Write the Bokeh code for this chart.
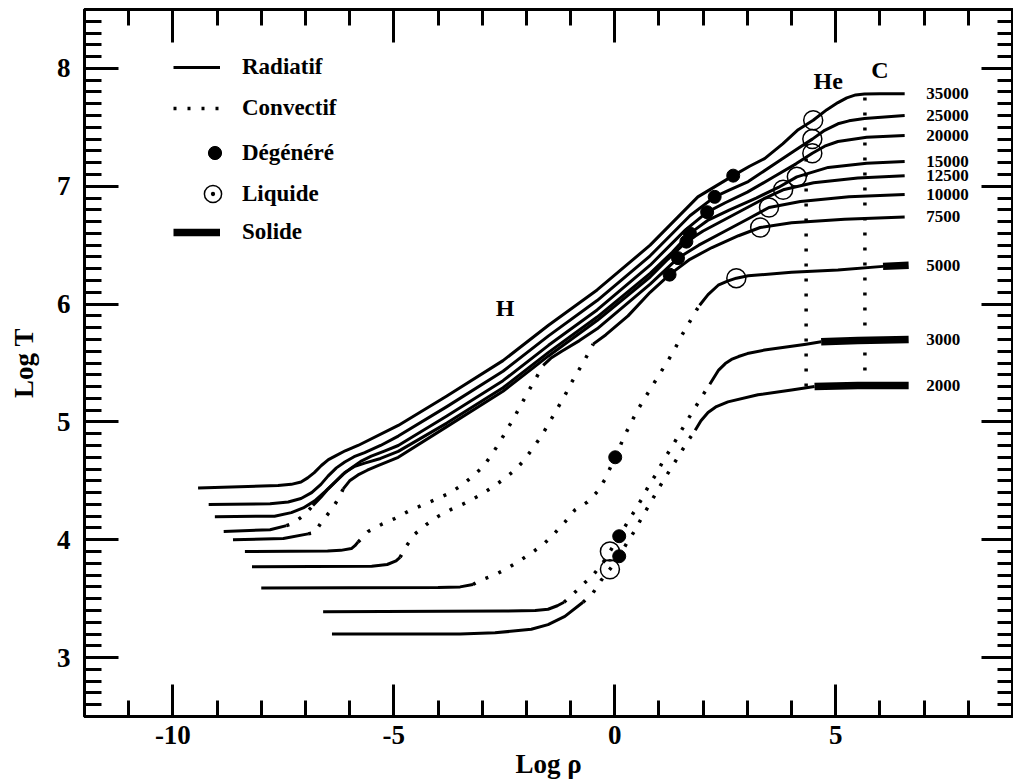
from bokeh.plotting import figure
from bokeh.models import (FixedTicker, LinearAxis, Label, Legend, LegendItem, Range1d,
                          CustomJSTickFormatter)
from bokeh.embed import file_html
from bokeh.resources import INLINE
from bokeh.core.properties import value

# ---------------- data ----------------
teff_labels = ["35000", "25000", "20000", "15000", "12500",
               "10000", "7500", "5000", "3000", "2000"]

t35000_x = [-9.43, -7.62, -7.32, -7.1, -6.95, -6.80, -6.64, -6.48, -6.33, -6.1, -5.81, -4.9, -3.8,
            -2.53, -1.5, -0.4, 0.8, 1.88, 2.68, 3.05, 3.39, 3.8, 4.15, 4.49, 4.8, 5.05, 5.25, 5.45,
            5.65, 6.0, 6.56]
t35000_y = [4.44, 4.46, 4.47, 4.49, 4.525, 4.57, 4.63, 4.68, 4.71, 4.755, 4.80, 4.97, 5.22,
            5.52, 5.82, 6.12, 6.50, 6.91, 7.09, 7.17, 7.235, 7.36, 7.48, 7.56, 7.65, 7.71, 7.75, 7.775,
            7.783, 7.785, 7.785]

t25000_x = [-9.19, -7.8, -7.39, -7.1, -6.86, -6.65, -6.49, -6.3, -6.11, -5.9, -5.66, -5.3, -4.9, -3.8,
            -2.53, -1.5, -0.4, 0.8, 1.7, 2.26, 2.6, 3.02, 3.7, 4.1, 4.47, 4.75, 5.05, 5.3, 5.65, 6.56]
t25000_y = [4.30, 4.305, 4.32, 4.35, 4.40, 4.47, 4.54, 4.61, 4.66, 4.705, 4.74, 4.80, 4.88, 5.13,
            5.43, 5.73, 6.03, 6.41, 6.75, 6.91, 6.97, 7.04, 7.21, 7.31, 7.40, 7.475, 7.53, 7.555,
            7.575, 7.60]

t20000_x = [-9.05, -7.7, -7.32, -7.05, -6.79, -6.55, -6.33, -6.15, -5.96, -5.75, -5.51, -5.2, -4.9,
            -3.8, -2.53, -1.5, -0.4, 0.8, 1.6, 2.09, 2.5, 3.0, 3.6, 4.1, 4.47, 4.75, 5.05, 5.7, 6.56]
t20000_y = [4.196, 4.20, 4.23, 4.27, 4.33, 4.41, 4.49, 4.555, 4.61, 4.665, 4.71, 4.755, 4.80,
            5.05, 5.35, 5.65, 5.95, 6.33, 6.63, 6.78, 6.86, 6.95, 7.08, 7.19, 7.28, 7.34, 7.38,
            7.415, 7.43]

t15000_x = [-8.85, -7.8, -7.43, -7.28, -7.03, -6.83, -6.65, -6.49, -6.3, -6.11, -5.9, -5.66, -5.3,
            -4.9, -3.8, -2.53, -1.5, -0.4, 0.8, 1.3, 1.70, 2.1, 2.6, 3.2, 3.7, 4.12, 4.83, 5.7, 6.56]
t15000_y = [4.07, 4.085, 4.12, 4.14, 4.21, 4.29, 4.36, 4.43, 4.50, 4.57, 4.62, 4.65, 4.69,
            4.75, 4.99, 5.29, 5.59, 5.89, 6.26, 6.44, 6.60, 6.71, 6.80, 6.90, 6.99, 7.08, 7.16,
            7.195, 7.21]
t15000_conv = [(-7.43, -6.83)]

t12500_x = [-8.64, -7.5, -6.94, -6.79, -6.62, -6.40, -6.22, -6.15, -6.0, -5.81, -5.6, -5.36, -4.9,
            -3.8, -2.53, -1.5, -0.4, 0.8, 1.2, 1.62, 2.0, 2.5, 3.0, 3.4, 3.81, 4.5, 5.5, 6.56]
t12500_y = [4.00, 4.01, 4.05, 4.06, 4.16, 4.26, 4.37, 4.43, 4.50, 4.55, 4.59, 4.63, 4.70,
            4.96, 5.26, 5.56, 5.86, 6.23, 6.38, 6.53, 6.62, 6.72, 6.82, 6.90, 6.97, 7.03, 7.07, 7.09]
t12500_conv = [(-6.94, -6.15)]

t10000_x = [-8.37, -6.5, -6.2, -5.96, -5.88, -5.81, -5.58, -5.28, -4.98, -4.68, -4.38, -4.07, -3.77,
            -3.47, -3.21, -2.98, -2.79, -2.60, -2.43, -2.26, -2.10, -1.94, -1.77, -1.62, -1.45, -1.2,
            -0.8, -0.4, 0.8, 1.43, 1.9, 2.5, 3.0, 3.49, 4.2, 5.3, 6.56]
t10000_y = [3.90, 3.905, 3.91, 3.925, 3.95, 3.98, 4.07, 4.13, 4.18, 4.24, 4.29, 4.34, 4.39,
            4.46, 4.54, 4.62, 4.72, 4.83, 4.94, 5.05, 5.16, 5.27, 5.38, 5.48, 5.54, 5.60,
            5.69, 5.79, 6.17, 6.39, 6.50, 6.62, 6.72, 6.82, 6.87, 6.91, 6.93]
t10000_conv = [(-5.81, -1.62)]

t7500_x = [-8.21, -5.5, -5.15, -4.95, -4.86, -4.71, -4.52, -4.26, -3.99, -3.69, -3.39, -3.09, -2.79,
           -2.53, -2.26, -2.04, -1.85, -1.66, -1.49, -1.32, -1.15, -1.0, -0.83, -0.66, -0.49, -0.2,
           0.3, 0.8, 1.24, 1.7, 2.2, 2.8, 3.29, 4.0, 5.2, 6.56]
t7500_y = [3.77, 3.775, 3.79, 3.82, 3.85, 3.95, 4.05, 4.13, 4.20, 4.26, 4.31, 4.37, 4.44,
           4.51, 4.59, 4.68, 4.78, 4.88, 4.99, 5.10, 5.21, 5.32, 5.43, 5.54, 5.66, 5.74,
           5.90, 6.10, 6.25, 6.38, 6.48, 6.58, 6.65, 6.69, 6.72, 6.74]
t7500_conv = [(-4.86, -0.49)]

t5000_x = [-8.0, -4.0, -3.5, -3.21, -3.02, -2.72, -2.42, -2.12, -1.84, -1.59, -1.35, -1.13, -0.91,
           -0.62, -0.39, -0.21, -0.08, 0.01, 0.08, 0.19, 0.34, 0.50, 0.66, 0.84, 1.02, 1.19, 1.36,
           1.51, 1.68, 1.85, 1.92, 2.11, 2.34, 2.55, 2.75, 3.02, 4.0, 5.05, 6.07, 6.65]
t5000_y = [3.59, 3.595, 3.60, 3.62, 3.66, 3.70, 3.76, 3.83, 3.90, 3.97, 4.06, 4.15, 4.25,
           4.32, 4.41, 4.52, 4.63, 4.70, 4.755, 4.86, 4.97, 5.09, 5.19, 5.30, 5.41, 5.51, 5.62,
           5.73, 5.84, 5.95, 5.99, 6.08, 6.16, 6.195, 6.22, 6.24, 6.27, 6.29, 6.32, 6.33]
t5000_conv = [(-3.21, 1.92)]
t5000_solid = 6.07

t3000_x = [-6.6, -2.5, -1.8, -1.51, -1.3, -1.15, -0.94, -0.72, -0.47, -0.26, -0.11, 0.10, 0.26,
           0.44, 0.60, 0.77, 0.94, 1.11, 1.28, 1.45, 1.62, 1.80, 1.98, 2.15, 2.35, 2.5, 2.64, 2.8,
           3.0, 3.39, 4.33, 4.67, 5.5, 6.65]
t3000_y = [3.39, 3.395, 3.40, 3.41, 3.44, 3.47, 3.54, 3.62, 3.71, 3.81, 3.90, 4.03, 4.13,
           4.24, 4.34, 4.46, 4.56, 4.68, 4.78, 4.89, 5.00, 5.11, 5.22, 5.32, 5.44, 5.495, 5.53, 5.555,
           5.58, 5.61, 5.66, 5.68, 5.69, 5.70]
t3000_conv = [(-1.15, 2.15)]
t3000_solid = 4.67

t2000_x = [-6.40, -3.5, -2.71, -1.89, -1.51, -1.13, -0.72, -0.49, -0.30, -0.11, 0.10, 0.27, 0.44,
           0.60, 0.77, 0.94, 1.11, 1.28, 1.46, 1.64, 1.82, 1.95, 2.11, 2.3, 2.56, 3.24, 4.0, 4.52,
           5.5, 6.65]
t2000_y = [3.20, 3.20, 3.21, 3.24, 3.28, 3.35, 3.47, 3.55, 3.66, 3.75, 3.86, 3.97, 4.07,
           4.18, 4.29, 4.40, 4.51, 4.61, 4.72, 4.83, 4.93, 5.01, 5.08, 5.13, 5.17, 5.23, 5.27, 5.30,
           5.31, 5.31]
t2000_conv = [(-0.72, 1.82)]
t2000_solid = 4.52

# onset of degeneracy (filled) and of the liquid phase (open circles)
degen_x = [2.68, 2.26, 2.09, 1.70, 1.62, 1.43, 1.24, 0.01, 0.10, 0.10]
degen_y = [7.09, 6.91, 6.78, 6.60, 6.53, 6.39, 6.25, 4.70, 4.03, 3.86]
liq_x = [4.49, 4.47, 4.47, 4.12, 3.81, 3.49, 3.29, 2.75, -0.11, -0.11]
liq_y = [7.56, 7.40, 7.28, 7.08, 6.97, 6.82, 6.65, 6.22, 3.90, 3.75]

# composition boundaries (H/He and He/C)
he_x = [4.33, 4.33]
he_y = [5.30, 7.45]
c_x = [5.66, 5.66]
c_y = [5.31, 7.78]

x_major = [-10, -5, 0, 5]
y_major = [3, 4, 5, 6, 7, 8]

curves = [
    (t35000_x, t35000_y, [], None),
    (t25000_x, t25000_y, [], None),
    (t20000_x, t20000_y, [], None),
    (t15000_x, t15000_y, t15000_conv, None),
    (t12500_x, t12500_y, t12500_conv, None),
    (t10000_x, t10000_y, t10000_conv, None),
    (t7500_x, t7500_y, t7500_conv, None),
    (t5000_x, t5000_y, t5000_conv, t5000_solid),
    (t3000_x, t3000_y, t3000_conv, t3000_solid),
    (t2000_x, t2000_y, t2000_conv, t2000_solid),
]

FONT = "Liberation Serif"
NAN = float("nan")


def pieces(xs, ys, conv, solid_from):
    out = {"R": [], "C": [], "S": []}
    kind, cur = None, None
    for i in range(len(xs) - 1):
        mid = 0.5 * (xs[i] + xs[i + 1])
        if solid_from is not None and mid >= solid_from:
            k = "S"
        elif any(a <= mid <= b for a, b in conv):
            k = "C"
        else:
            k = "R"
        if k != kind:
            cur = ([xs[i]], [ys[i]])
            out[k].append(cur)
            kind = k
        cur[0].append(xs[i + 1])
        cur[1].append(ys[i + 1])
    return out


p = figure(width=1013, height=783, x_range=Range1d(-12, 9), y_range=Range1d(2.5, 8.5),
           output_backend="svg", toolbar_location=None,
           min_border_left=84, min_border_right=1, min_border_top=9, min_border_bottom=67)
p.xgrid.visible = False
p.ygrid.visible = False
p.outline_line_color = "black"
p.outline_line_width = 3
p.background_fill_color = "white"
p.border_fill_color = "white"

x_minor = [v for v in range(-11, 9) if v not in x_major]
y_minor = [round(2.5 + 0.1 * i, 1) for i in range(61)]
y_minor = [v for v in y_minor if v not in y_major]
xt = FixedTicker(ticks=x_major, minor_ticks=x_minor)
yt = FixedTicker(ticks=y_major, minor_ticks=y_minor)


def style(ax, major_len, minor_len, labels=True):
    ax.major_tick_in = major_len
    ax.major_tick_out = 0
    ax.minor_tick_in = minor_len
    ax.minor_tick_out = 0
    ax.major_tick_line_width = 3
    ax.minor_tick_line_width = 3
    ax.axis_line_width = 3
    ax.major_tick_line_color = "black"
    ax.minor_tick_line_color = "black"
    ax.axis_line_color = "black"
    ax.major_label_text_font = FONT
    ax.major_label_text_font_style = "bold"
    ax.major_label_text_color = "black"
    ax.axis_label_text_font = FONT
    ax.axis_label_text_font_style = "bold"
    ax.axis_label_text_color = "black"
    ax.axis_label_text_font_size = "27px"
    if labels:
        ax.major_label_text_font_size = "27px"
    else:
        ax.formatter = CustomJSTickFormatter(code="return ''")
        ax.major_label_standoff = 0


bx = p.xaxis[0]
bx.ticker = xt
bx.major_label_overrides = {v: str(v) for v in x_major}
style(bx, 32, 16)
bx.major_label_standoff = 9
bx.axis_label = "Log \u03c1"
bx.axis_label_standoff = 2

ly = p.yaxis[0]
ly.ticker = yt
style(ly, 34, 17)
ly.major_label_standoff = 14
ly.axis_label = "Log T"
ly.axis_label_standoff = 15

tx = LinearAxis(ticker=xt)
style(tx, 33, 16, labels=False)
p.add_layout(tx, "above")
ry = LinearAxis(ticker=yt)
style(ry, 31, 15, labels=False)
p.add_layout(ry, "right")

R, C, S = ([], []), ([], []), ([], [])
for xs, ys, conv, sf in curves:
    pc = pieces(xs, ys, conv, sf)
    for key, store in (("R", R), ("C", C), ("S", S)):
        for a, b in pc[key]:
            store[0].append(a)
            store[1].append(b)

p.multi_line(R[0], R[1], line_color="black", line_width=3, line_join="round")
p.multi_line(C[0], C[1], line_color="black", line_width=3.5, line_dash="3 11", line_cap="butt")
p.multi_line(S[0], S[1], line_color="black", line_width=7.5)
p.multi_line([he_x, c_x], [he_y, c_y], line_color="black", line_width=3.5,
             line_dash="3 12", line_cap="butt")

p.scatter(degen_x, degen_y, marker="circle", size=13, fill_color="black", line_color="black")
p.scatter(liq_x, liq_y, marker="circle", size=19, fill_color=None, line_color="black",
          line_width=1.5)

end_y = [c[1][-1] for c in curves]
p.text(x=[7.05] * len(teff_labels), y=end_y, text=teff_labels, text_font=value(FONT),
       text_font_style="bold", text_font_size="17px", text_baseline="middle", text_align="left",
       text_color="black")

for txt, lx, lyv in (("H", -2.48, 5.97), ("He", 4.83, 7.89), ("C", 6.0, 7.99)):
    p.add_layout(Label(x=lx, y=lyv, text=txt, text_font=FONT, text_font_style="bold",
                       text_font_size="24px", text_align="center", text_baseline="middle",
                       text_color="black"))

# legend (one legend per entry so each row sits where it does in the reference)
lr_rad = p.line([NAN], [NAN], line_color="black", line_width=3)
lr_conv = p.line([NAN], [NAN], line_color="black", line_width=3.5, line_dash="3 11",
                 line_cap="butt")
lr_deg = p.scatter([NAN], [NAN], marker="circle", fill_color="black", line_color="black")
lr_liq = p.scatter([NAN], [NAN], marker="circle_dot", fill_color=None, line_color="black",
                   line_width=1.5)
lr_sol = p.line([NAN], [NAN], line_color="black", line_width=7.5)

entries = [
    ("Radiatif", lr_rad, (89, 634), 47, 30, 22),
    ("Convectif", lr_conv, (89, 593), 47, 30, 22),
    ("D\u00e9g\u00e9n\u00e9r\u00e9", lr_deg, (114, 547), 33, 33, 11),
    ("Liquide", lr_liq, (107, 501), 43, 43, 8),
    ("Solide", lr_sol, (89, 469), 47, 30, 22),
]
for label, r, loc, gw, gh, st in entries:
    lg = Legend(items=[LegendItem(label=label, renderers=[r])], location=loc,
                glyph_width=gw, glyph_height=gh, label_height=gh, label_standoff=st,
                padding=0, margin=0, border_line_alpha=0, background_fill_alpha=0,
                label_text_font=FONT, label_text_font_style="bold", label_text_font_size="23px",
                label_text_color="black")
    p.add_layout(lg, "center")

open("out.html", "w").write(file_html(p, INLINE))
